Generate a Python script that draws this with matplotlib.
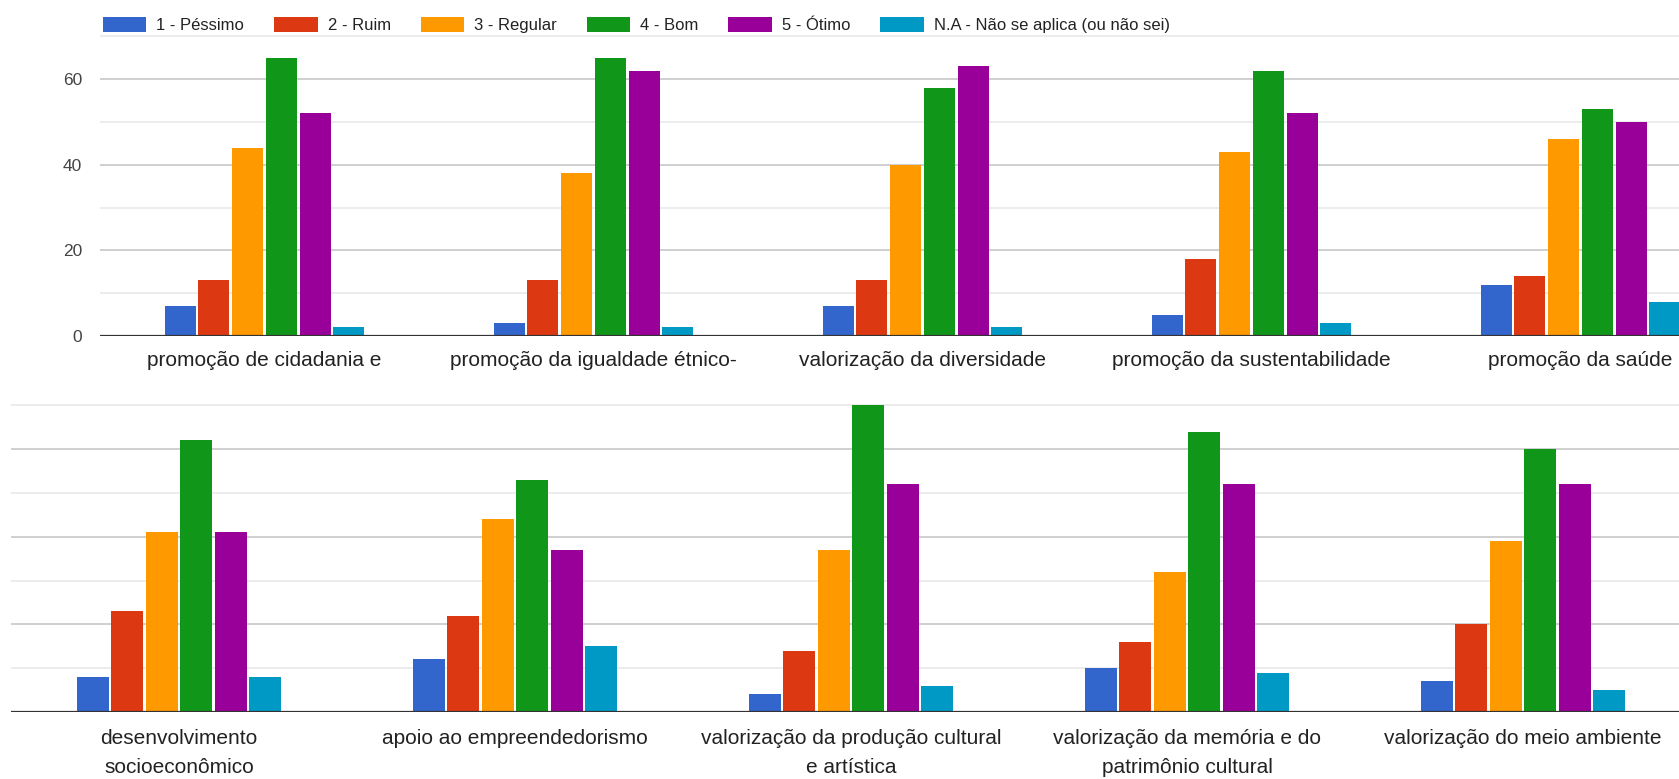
import numpy as np
import matplotlib
matplotlib.use("Agg")
import matplotlib.pyplot as plt
from matplotlib.patches import Patch

plt.rcParams["font.family"] = ["Liberation Sans", "DejaVu Sans"]

series = ["1 - Péssimo", "2 - Ruim", "3 - Regular", "4 - Bom", "5 - Ótimo",
          "N.A - Não se aplica (ou não sei)"]
colors = ["#3366cc", "#dc3912", "#ff9900", "#109618", "#990099", "#0099c6"]

# top chart
top_cats = ["promoção de cidadania e", "promoção da igualdade étnico-",
            "valorização da diversidade", "promoção da sustentabilidade",
            "promoção da saúde"]
top_pessimo = [7, 3, 7, 5, 12]
top_ruim = [13, 13, 13, 18, 14]
top_regular = [44, 38, 40, 43, 46]
top_bom = [65, 65, 58, 62, 53]
top_otimo = [52, 62, 63, 52, 50]
top_na = [2, 2, 2, 3, 8]

# bottom chart
bot_cats = ["desenvolvimento\nsocioeconômico", "apoio ao empreendedorismo",
            "valorização da produção cultural\ne artística",
            "valorização da memória e do\npatrimônio cultural",
            "valorização do meio ambiente"]
bot_pessimo = [8, 12, 4, 10, 7]
bot_ruim = [23, 22, 14, 16, 20]
bot_regular = [41, 44, 37, 32, 39]
bot_bom = [62, 53, 70, 64, 60]
bot_otimo = [41, 37, 52, 52, 52]
bot_na = [8, 15, 6, 9, 5]

W, H = 1679, 779
fig = plt.figure(figsize=(W / 100, H / 100), dpi=100)


def draw(ax, cats, data, xmax, show_y, pad, lsp):
    x = np.arange(len(cats))
    slot = 0.1025
    for i, vals in enumerate(data):
        ax.bar(x + (i - 2.5) * slot, vals, width=slot * 0.92,
               color=colors[i], zorder=3)
    ax.set_xlim(-0.5, xmax)
    ax.set_ylim(0, 70.3)
    for v in range(10, 80, 10):
        c = "#cccccc" if v % 20 == 0 else "#ebebeb"
        ax.axhline(v, color=c, lw=1.3, zorder=1)
    ax.axhline(0, color="#333333", lw=1.6, zorder=4)
    for s in ax.spines.values():
        s.set_visible(False)
    ax.set_xticks(x)
    ax.set_xticklabels(cats, fontsize=15, color="#222222", linespacing=lsp)
    ax.tick_params(axis="x", length=0, pad=pad)
    if show_y:
        ax.set_yticks([0, 20, 40, 60])
        ax.tick_params(axis="y", length=0, pad=13, labelsize=12.5,
                       labelcolor="#444444")
    else:
        ax.set_yticks([])


ax1 = fig.add_axes([100 / W, 1 - 336 / H, (W - 100) / W, (336 - 35) / H])
draw(ax1, top_cats, [top_pessimo, top_ruim, top_regular, top_bom, top_otimo, top_na],
     -0.5 + (W - 100) / 329, True, 11, 1.4)

ax2 = fig.add_axes([11 / W, 1 - 712 / H, (W - 11) / W, (712 - 404) / H])
draw(ax2, bot_cats, [bot_pessimo, bot_ruim, bot_regular, bot_bom, bot_otimo, bot_na],
     -0.5 + (W - 11) / 336, False, 12, 1.7)

handles = [Patch(facecolor=c) for c in colors]
fig.legend(handles, series, loc="center left", ncol=6,
           bbox_to_anchor=(88 / W, 1 - 25 / H), frameon=False,
           fontsize=12, handlelength=2.6, handleheight=1.0,
           handletextpad=0.6, columnspacing=1.8, labelcolor="#222222")

fig.savefig("out.png", dpi=100, facecolor="white")
